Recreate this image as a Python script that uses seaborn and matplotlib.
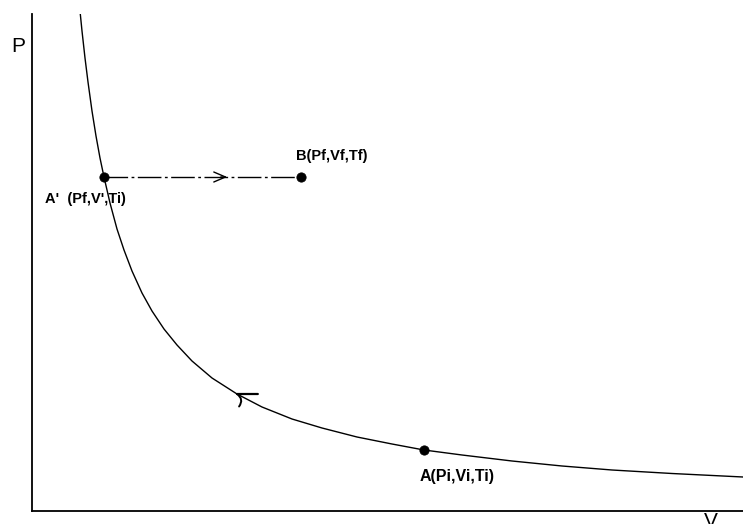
import matplotlib
matplotlib.use("Agg")
import matplotlib.pyplot as plt
import seaborn as sns
import pandas as pd

sns.set_theme(style="white")
plt.rcParams['font.family'] = ['Liberation Sans', 'DejaVu Sans']

# Isotherm curve (V, P)
curve_V = [0.48, 0.50, 0.53, 0.56, 0.60, 0.64, 0.68, 0.72, 0.78, 0.85, 0.92, 1.00,
           1.10, 1.20, 1.32, 1.45, 1.60, 1.80, 2.05, 2.30, 2.60, 2.90, 3.25, 3.60,
           3.92, 4.30, 4.80, 5.30, 5.80, 6.40, 7.11]
curve_P = [5.00, 4.80, 4.53, 4.29, 4.00, 3.75, 3.53, 3.34, 3.08, 2.82, 2.61, 2.40,
           2.18, 2.00, 1.82, 1.66, 1.50, 1.33, 1.17, 1.04, 0.92, 0.83, 0.74, 0.67,
           0.61, 0.56, 0.50, 0.45, 0.41, 0.375, 0.34]

# Isobaric path A' -> B
iso_V = [0.72, 2.69]
iso_P = [3.34, 3.34]

# State points
pt_names = ["A'", "B", "A"]
pt_V = [0.72, 2.69, 3.92]
pt_P = [3.34, 3.34, 0.61]
pt_labels = ["A'  (Pf,V',Ti)", "B(Pf,Vf,Tf)", "A(Pi,Vi,Ti)"]

# Arrow positions
arrow_iso_tip = (1.98, 3.34)
arrow_curve_tip = (2.05, 1.17)

fig = plt.figure(figsize=(7.43, 5.24), dpi=100)
ax = fig.add_axes([32/743, 1 - 511/524, 711/743, 497/524])

curve_df = pd.DataFrame({"V": curve_V, "P": curve_P})
sns.lineplot(data=curve_df, x="V", y="P", sort=False, color="black", lw=1.0, ax=ax,
             estimator=None)

iso_df = pd.DataFrame({"V": iso_V, "P": iso_P})
sns.lineplot(data=iso_df, x="V", y="P", sort=False, color="black", lw=1.0, ax=ax,
             estimator=None, linestyle=(0, (17, 2.5, 2, 2.5)))

pts_df = pd.DataFrame({"name": pt_names, "V": pt_V, "P": pt_P})
sns.scatterplot(data=pts_df, x="V", y="P", color="black", s=45, ax=ax,
                edgecolor="black", zorder=5)

# Arrow on isobar (open chevron)
ax.annotate("", xy=arrow_iso_tip, xytext=(arrow_iso_tip[0] - 0.12, arrow_iso_tip[1]),
            arrowprops=dict(arrowstyle="->,head_length=0.7,head_width=0.3",
                            color="black", lw=1.0))
# Arrow on curve (hand-drawn style)
ax.annotate("", xy=arrow_curve_tip, xytext=(15, 0), textcoords="offset points",
            arrowprops=dict(arrowstyle="-", color="black", lw=1.6,
                            shrinkA=0, shrinkB=0))
ax.annotate("", xy=arrow_curve_tip, xytext=(1.5, -9), textcoords="offset points",
            arrowprops=dict(arrowstyle="-", color="black", lw=1.4,
                            connectionstyle="arc3,rad=0.5", shrinkA=0, shrinkB=0))

# Labels
offsets = [(-19, -22), (31, 21), (33, -27)]
sizes = [10.5, 10.5, 11.5]
for v, p, lab, off, fs in zip(pt_V, pt_P, pt_labels, offsets, sizes):
    ax.annotate(lab, xy=(v, p), xytext=off, textcoords="offset pixels",
                ha="center", va="center", fontsize=fs, fontweight="bold",
                color="black")

ax.set_xlim(0, 7.11)
ax.set_ylim(0, 4.97)
ax.set_xticks([])
ax.set_yticks([])
ax.set_xlabel("")
ax.set_ylabel("")
for side in ["top", "right"]:
    ax.spines[side].set_visible(False)
for side in ["left", "bottom"]:
    ax.spines[side].set_color("black")
    ax.spines[side].set_linewidth(1.3)

fig.text(18/743, 1 - 46/524, "P", ha="center", va="center", fontsize=15, color="black")
fig.text(711/743, 1 - 512/524, "V", ha="center", va="top", fontsize=15, color="black")

fig.savefig("out.png", dpi=100)
